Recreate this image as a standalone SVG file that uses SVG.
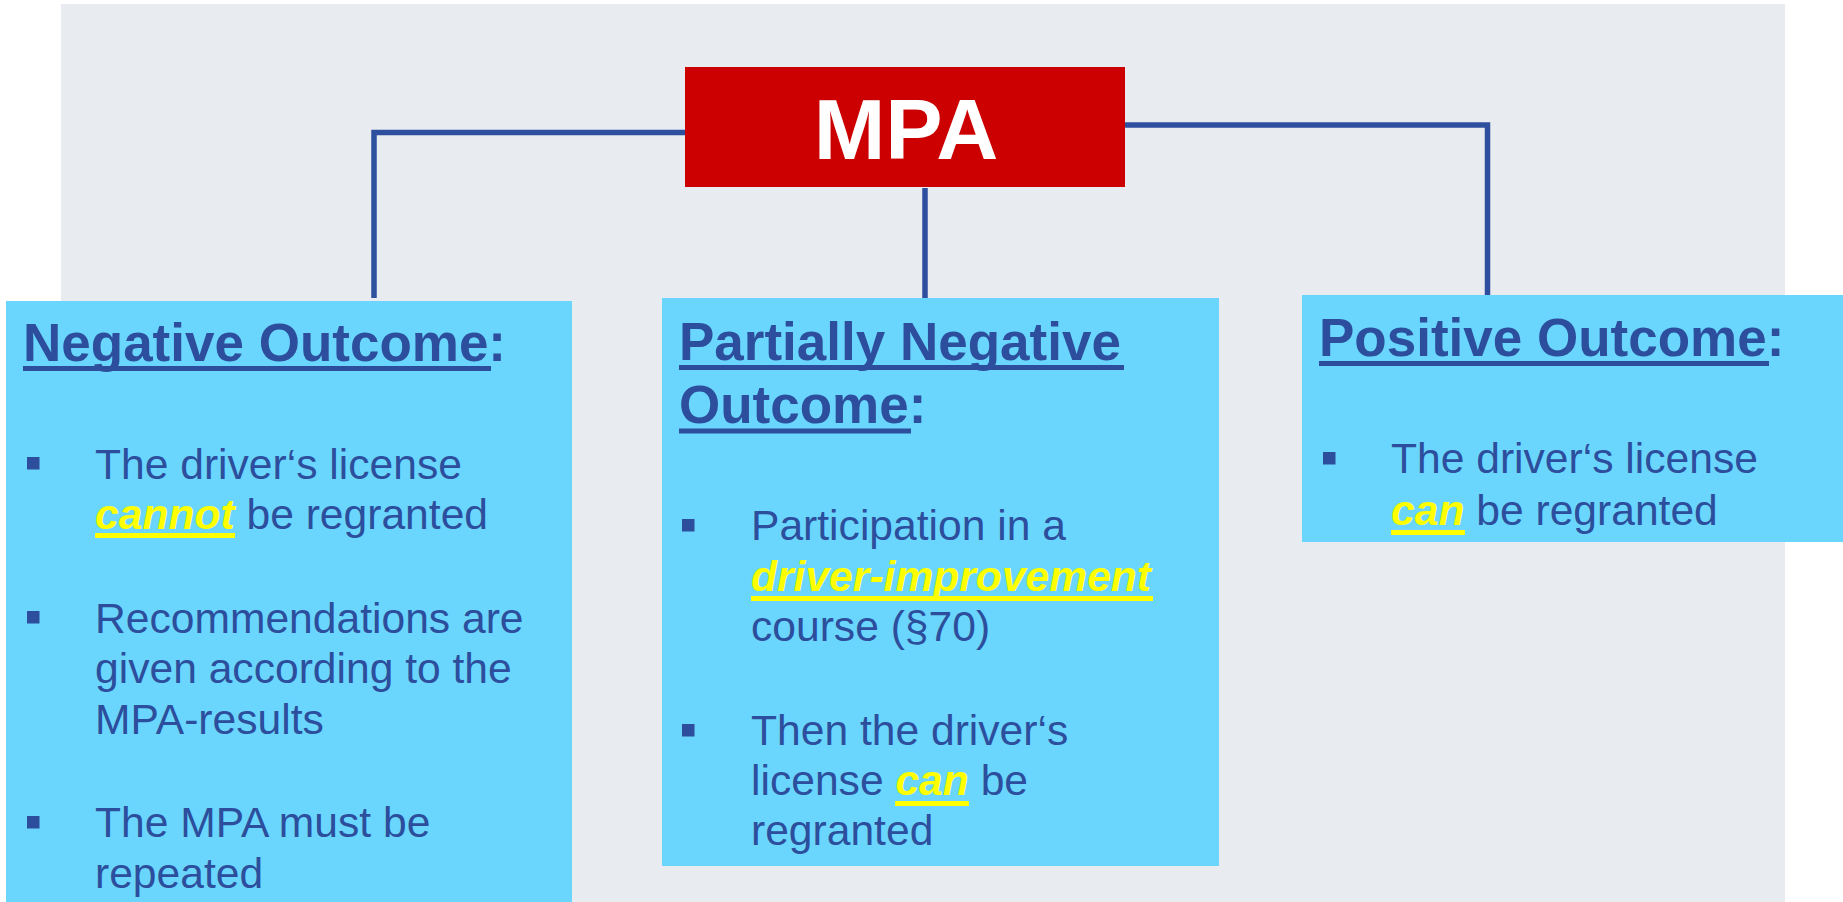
<svg xmlns="http://www.w3.org/2000/svg" width="1843" height="902" viewBox="0 0 1843 902">
<style>
  .panel{fill:#E8ECF0}
  .box{fill:#6AD6FD}
  .mpa{fill:#CC0000}
  .conn{fill:none;stroke:#2E4E9E;stroke-width:5.5;stroke-linejoin:miter}
  .title{font-family:"Liberation Sans",Arial,sans-serif;font-weight:bold;font-size:53px;fill:#2C4E9C}
  .body{font-family:"Liberation Sans",Arial,sans-serif;font-size:42.6px;fill:#2C4E9C}
  .hl{font-weight:bold;font-style:italic;fill:#FFFF00}
  .ul{fill:#2C4E9C}
  .yl{fill:#FFFF00}
  .bul{fill:#2C4E9C}
  .mpatext{font-family:"Liberation Sans",Arial,sans-serif;font-weight:bold;font-size:86px;fill:#FFFFFF}
</style>
<rect width="1843" height="902" fill="#FFFFFF"/>
<rect class="panel" x="61" y="4" width="1724" height="898"/>

<g id="connectors">
  <path class="conn" d="M374,298 V132.5 H686"/>
  <path class="conn" d="M925,188 V299"/>
  <path class="conn" d="M1126,125 H1487.5 V295" stroke-linecap="round"/>
</g>

<g id="mpa">
  <rect class="mpa" x="685" y="67" width="440" height="120"/>
  <text class="mpatext" x="906" y="159" text-anchor="middle">MPA</text>
</g>

<g id="negative">
  <rect class="box" x="6" y="301" width="566" height="601"/>
  <text class="title" x="23" y="361">Negative Outcome:</text>
  <rect class="ul" x="23" y="366" width="468" height="5"/>
  <rect class="bul" x="27" y="457" width="12.5" height="12.5"/>
  <text class="body" x="95" y="479">The driver‘s license</text>
  <text class="body" x="95" y="529"><tspan class="hl">cannot</tspan> be regranted</text>
  <rect class="yl" x="95" y="533" width="140" height="5"/>
  <rect class="bul" x="27" y="611" width="12.5" height="12.5"/>
  <text class="body" x="95" y="633">Recommendations are</text>
  <text class="body" x="95" y="683">given according to the</text>
  <text class="body" x="95" y="734">MPA-results</text>
  <rect class="bul" x="27" y="816" width="12.5" height="12.5"/>
  <text class="body" x="95" y="837">The MPA must be</text>
  <text class="body" x="95" y="888">repeated</text>
</g>

<g id="partially">
  <rect class="box" x="662" y="298" width="557" height="568"/>
  <text class="title" x="679" y="360">Partially Negative</text>
  <rect class="ul" x="679" y="365" width="445" height="5"/>
  <text class="title" x="679" y="423">Outcome:</text>
  <rect class="ul" x="679" y="428.5" width="232" height="5"/>
  <rect class="bul" x="682" y="519" width="12.5" height="12.5"/>
  <text class="body" x="751" y="540">Participation in a</text>
  <text class="body" x="751" y="591"><tspan class="hl">driver-improvement</tspan></text>
  <rect class="yl" x="751" y="596" width="402" height="5"/>
  <text class="body" x="751" y="641">course (§70)</text>
  <rect class="bul" x="682" y="724" width="12.5" height="12.5"/>
  <text class="body" x="751" y="745">Then the driver‘s</text>
  <text class="body" x="751" y="795">license <tspan class="hl">can</tspan> be</text>
  <rect class="yl" x="895" y="801" width="74" height="5"/>
  <text class="body" x="751" y="845">regranted</text>
</g>

<g id="positive">
  <rect class="box" x="1302" y="295" width="541" height="247"/>
  <text class="title" x="1319" y="356">Positive Outcome:</text>
  <rect class="ul" x="1319" y="361" width="450" height="5"/>
  <rect class="bul" x="1323" y="452" width="12.5" height="12.5"/>
  <text class="body" x="1391" y="473">The driver‘s license</text>
  <text class="body" x="1391" y="525"><tspan class="hl">can</tspan> be regranted</text>
  <rect class="yl" x="1391" y="530" width="74" height="5"/>
</g>
</svg>
